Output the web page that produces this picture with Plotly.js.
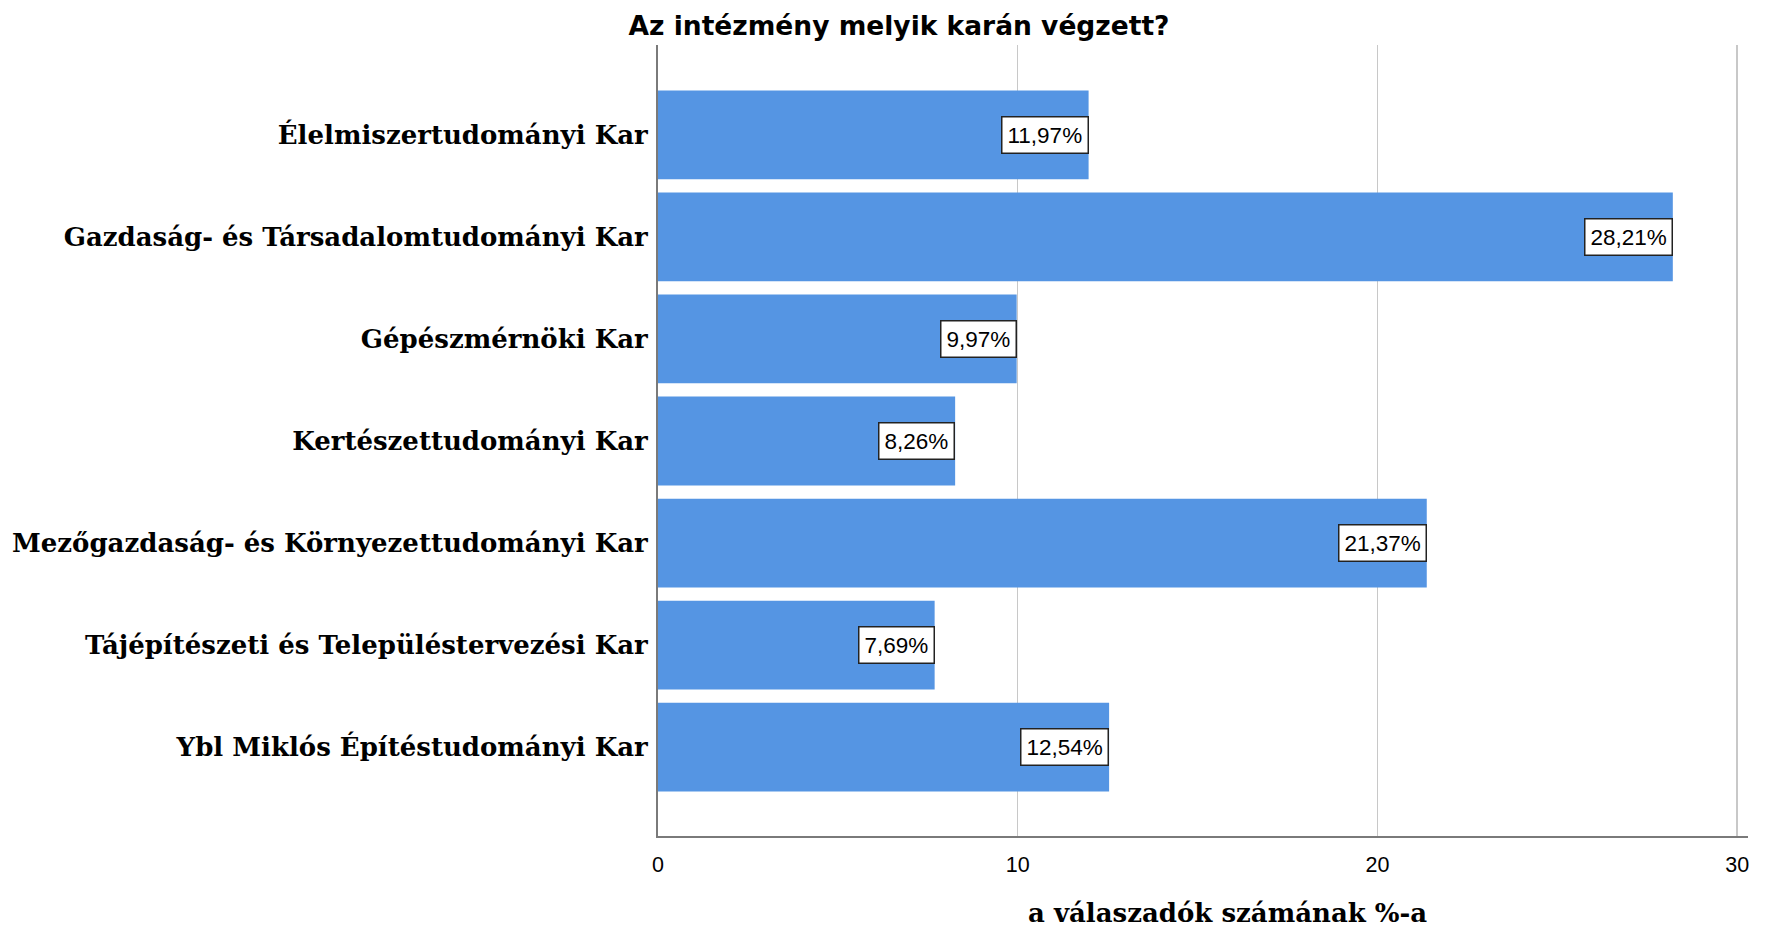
<!DOCTYPE html>
<html>
<head>
<meta charset="utf-8">
<script src="https://cdn.plot.ly/plotly-3.0.1.min.js"></script>
<style>html,body{margin:0;padding:0;background:#fff;}#chart{width:1778px;height:928px;}</style>
</head>
<body>
<div id="chart"></div>
<script>
const categories = [
  "Élelmiszertudományi Kar",
  "Gazdaság- és Társadalomtudományi Kar",
  "Gépészmérnöki Kar",
  "Kertészettudományi Kar",
  "Mezőgazdaság- és Környezettudományi Kar",
  "Tájépítészeti és Településtervezési Kar",
  "Ybl Miklós Építéstudományi Kar"
];
const values = [11.97, 28.21, 9.97, 8.26, 21.37, 7.69, 12.54];
const valueLabels = ["11,97%", "28,21%", "9,97%", "8,26%", "21,37%", "7,69%", "12,54%"];
const xTicks = [0, 10, 20, 30];
const chartTitle = "Az intézmény melyik karán végzett?";
const xTitle = "a válaszadók számának %-a";

const W = 1778, H = 928;
const ml = 658, mr = 30, mt = 45, mb = 92;

const trace = {
  type: 'bar',
  orientation: 'h',
  x: values,
  y: categories,
  marker: {color: '#5595E3', line: {width: 0}},
  hoverinfo: 'skip'
};

const annotations = values.map((v, i) => ({
  x: v, y: categories[i], xref: 'x', yref: 'y',
  text: valueLabels[i], showarrow: false,
  xanchor: 'right', yanchor: 'middle',
  bgcolor: '#ffffff', bordercolor: '#222222', borderwidth: 1.5, borderpad: 5,
  font: {family: 'Liberation Sans, Arial, sans-serif', size: 22.5, color: '#000'}
}));

annotations.push({
  text: xTitle, showarrow: false,
  xref: 'paper', yref: 'paper',
  x: (1227 - ml) / (W - ml - mr), y: -(913 - (H - mb)) / (H - mt - mb),
  xanchor: 'center', yanchor: 'middle',
  font: {family: 'DejaVu Serif, serif', size: 26, color: '#000', weight: 'bold'}
});

const layout = {
  width: W, height: H,
  margin: {l: ml, r: mr, t: mt, b: mb, pad: 0},
  paper_bgcolor: '#fff', plot_bgcolor: '#fff',
  showlegend: false,
  bargap: 0.13,
  title: {
    text: chartTitle,
    font: {family: 'DejaVu Sans, sans-serif', size: 26.5, color: '#000', weight: 'bold'},
    x: 899 / W, xref: 'container', xanchor: 'center',
    y: 1 - 26 / H, yref: 'container', yanchor: 'middle'
  },
  xaxis: {
    range: [0, 30.3],
    tickvals: xTicks,
    ticktext: xTicks.map(String),
    showgrid: true, gridcolor: '#c8c8c8', gridwidth: 1.5,
    zeroline: false,
    showline: true, linecolor: '#7a7a7a', linewidth: 2,
    ticks: 'outside', ticklen: 8, tickcolor: 'rgba(0,0,0,0)',
    tickfont: {family: 'Liberation Sans, Arial, sans-serif', size: 21.5, color: '#000'},
    fixedrange: true
  },
  yaxis: {
    type: 'category',
    range: [6.87, -0.88],
    showgrid: false, zeroline: false,
    showline: true, linecolor: '#7a7a7a', linewidth: 2,
    ticks: 'outside', ticklen: 3, tickcolor: 'rgba(0,0,0,0)',
    tickfont: {family: 'DejaVu Serif, serif', size: 26, color: '#000', weight: 'bold'},
    fixedrange: true
  },
  annotations: annotations
};

Plotly.newPlot('chart', [trace], layout, {displayModeBar: false, staticPlot: true});
</script>
</body>
</html>
